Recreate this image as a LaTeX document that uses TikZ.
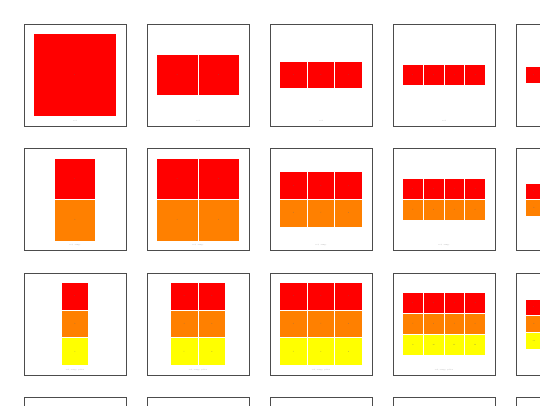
\documentclass[tikz,border=0pt]{standalone}
\definecolor{cRed}{RGB}{255,0,0}
\definecolor{cOrange}{RGB}{255,128,0}
\definecolor{cYellow}{RGB}{255,255,0}
\begin{document}
\begin{tikzpicture}[x=1pt,y=-1pt,
  panel/.style={draw=black!70, line width=1pt, fill=white, minimum width=102pt, minimum height=102pt, inner sep=0pt, outer sep=0pt},
  cell/.style={draw=white, line width=0.8pt, inner sep=0pt, outer sep=0pt},
  lab/.style={font=\fontsize{1.6}{2}\selectfont, text=black!60, inner sep=0pt},
  captiontext/.style={font=\fontsize{1.6}{2}\selectfont, text=black!45, inner sep=0pt}]
\useasboundingbox (0,0) rectangle (540,405);
\clip (0,0) rectangle (540,405);
\foreach \r/\captext in {1/red, 2/{red, orange}, 3/{red, orange, yellow}}{
  \foreach \c in {1,...,5}{
    \pgfmathsetmacro\cx{75+123*(\c-1)}
    \pgfmathsetmacro\cy{75+124.5*(\r-1)}
    \node[panel] (p-\r-\c) at (\cx,\cy) {};
    \pgfmathsetmacro\s{83/max(\r,\c)}
    \foreach \i/\col in {1/cRed, 2/cOrange, 3/cYellow}{
      \ifnum\i>\r\else
        \foreach \j in {1,...,\c}{
          \pgfmathtruncatemacro\n{(\i-1)*\c+\j}
          \node[cell, fill=\col, minimum size=\s pt] (c-\r-\c-\i-\j)
            at ({\cx+(\j-0.5-\c/2)*\s}, {\cy+(\i-0.5-\r/2)*\s}) {};
          \node[lab] (l-\r-\c-\i-\j) at (c-\r-\c-\i-\j) {\n};
        }
      \fi
    }
    \node[captiontext] (t-\r-\c) at (\cx,{\cy+46}) {\captext};
  }
}
\foreach \c in {1,...,5}{
  \pgfmathsetmacro\cx{75+123*(\c-1)}
  \node[panel] (p-4-\c) at (\cx,{75+124.5*3}) {};
}
\end{tikzpicture}
\end{document}
